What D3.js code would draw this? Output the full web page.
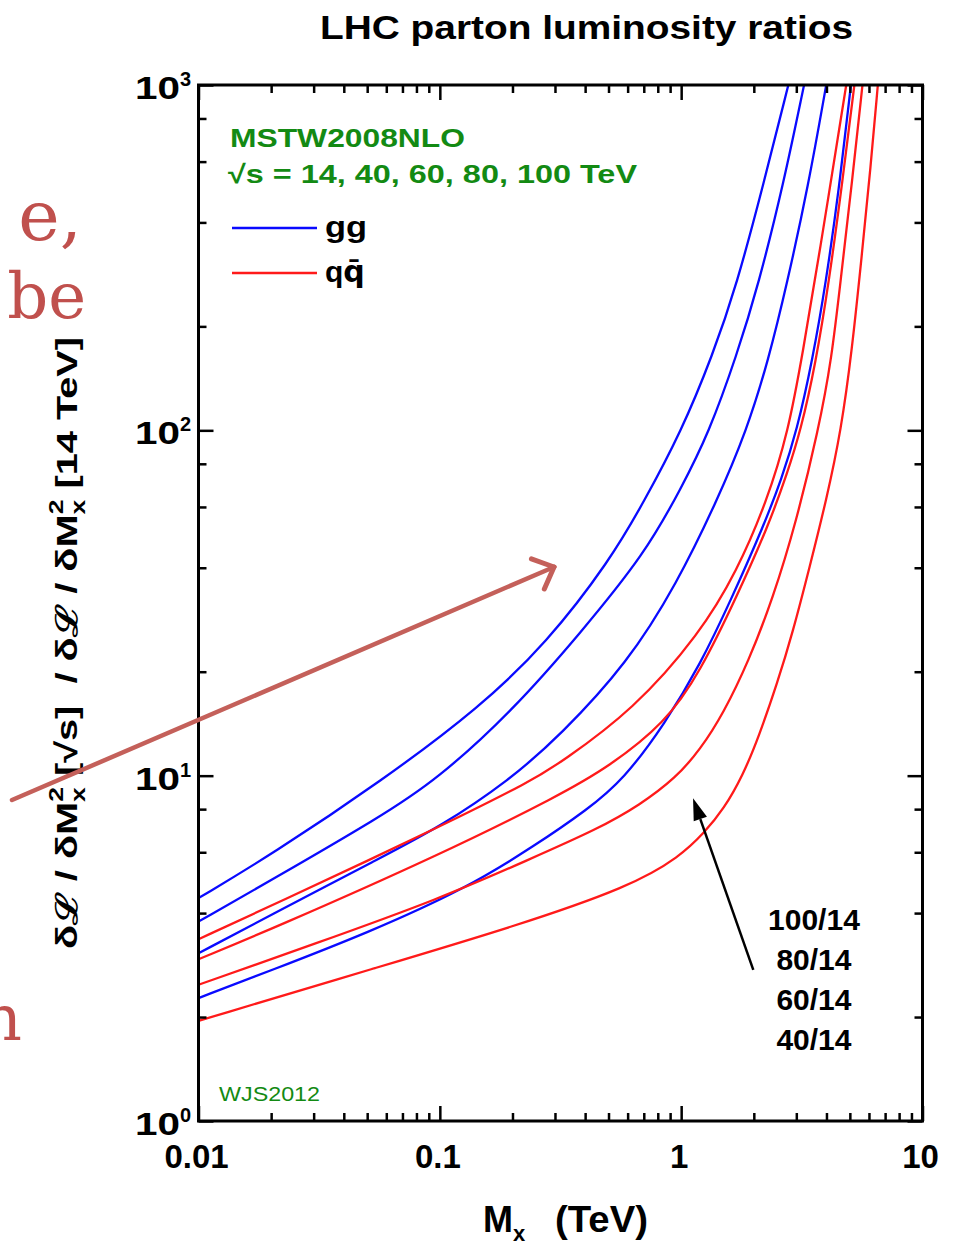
<!DOCTYPE html>
<html>
<head>
<meta charset="utf-8">
<script src="https://cdn.jsdelivr.net/npm/d3@7"></script>
<style>
  body { margin: 0; background: #fff; }
  svg { display: block; }
  text { font-family: "Liberation Sans", Arial, Helvetica, sans-serif; white-space: pre; }
</style>
</head>
<body>
<svg width="955" height="1248"></svg>
<script>
// axis ticks and labels
var massTicks = [0.01, 0.1, 1, 10];
var massLabels = ["0.01", "0.1", "1", "10"];
var ratioTicks = [1, 10, 100, 1000];
var energyRatios = ["100/14", "80/14", "60/14", "40/14"];

// [M_X (TeV), luminosity ratio]
var gg_100 = [[0.01, 4.42], [0.02, 5.9], [0.0582, 9.72], [0.1467, 15.8], [0.277, 24.2], [0.507, 42], [0.7, 62], [1.0, 99], [1.35, 165], [1.7, 264], [2.19, 514], [2.78, 1000]];
var gg_80 = [[0.01, 3.78], [0.02, 4.98], [0.0567, 7.6], [0.097, 9.72], [0.2016, 15.5], [0.381, 25.8], [0.709, 44], [1.0, 68], [1.3, 98], [1.7, 165], [2.09, 264], [2.65, 514], [3.23, 1000]];
var gg_60 = [[0.01, 3.06], [0.02, 3.95], [0.0567, 5.78], [0.1, 7.1], [0.195, 9.72], [0.316, 13.1], [0.6, 21.2], [0.96, 36], [1.4, 62], [1.87, 100], [2.3, 160], [2.74, 264], [3.37, 514], [3.99, 1000]];
var gg_40 = [[0.01, 2.27], [0.02, 2.73], [0.05, 3.5], [0.129, 4.72], [0.25, 6.3], [0.407, 7.96], [0.576, 9.72], [0.86, 14.2], [1.2, 21], [1.6, 32], [2.2, 53], [2.6, 72], [3.02, 100], [3.5, 160], [3.98, 268], [4.5, 494], [5.05, 1000]];
var qq_100 = [[0.01, 3.36], [0.02, 4.2], [0.094, 6.96], [0.244, 9.72], [0.316, 10.9], [0.634, 15.5], [1.197, 25.8], [1.7, 39], [2.26, 62], [2.78, 99], [3.2, 170], [3.7, 310], [4.83, 1000]];
var qq_80 = [[0.01, 2.94], [0.02, 3.59], [0.1, 5.9], [0.316, 8.8], [0.5, 10.6], [0.86, 14.2], [1.2, 20], [1.7, 33], [2.3, 53], [2.75, 75], [3.13, 100], [3.6, 155], [4.1, 270], [4.65, 520], [5.22, 1000]];
var qq_60 = [[0.01, 2.48], [0.03, 3.25], [0.1, 4.4], [0.237, 5.74], [0.45, 7.0], [0.6755, 8.23], [0.95, 9.85], [1.2, 11.9], [1.5, 15.2], [1.9, 21.4], [2.4, 32.6], [3.0, 54.4], [3.7, 100], [4.2, 160], [4.6, 280], [5.1, 520], [5.64, 1000]];
var qq_40 = [[0.01, 1.95], [0.0565, 2.8], [0.2016, 3.65], [0.614, 4.77], [0.99, 5.83], [1.25, 6.85], [1.5, 8.0], [1.8, 10.0], [2.1, 13.0], [2.5, 18.5], [2.9, 26], [3.4, 40], [4.0, 63], [4.6, 100], [5.1, 170], [5.6, 320], [6.1, 580], [6.53, 1000]];

var ggSeries = [gg_100, gg_80, gg_60, gg_40];
var qqSeries = [qq_100, qq_80, qq_60, qq_40];

var BLUE = "#0a0aff", RED = "#ff1a1a", GREEN = "#138a13", SLIDE = "#c4605a";
var LEFT = 198.5, RIGHT = 922.5, TOP = 85, BOTTOM = 1121;

var svg = d3.select("svg");
var x = d3.scaleLog().domain([0.01, 10]).range([LEFT, RIGHT]);
var y = d3.scaleLog().domain([1, 1000]).range([BOTTOM, TOP]);

function fitText (sel, target) {
  sel.attr("textLength", target).attr("lengthAdjust", "spacingAndGlyphs");
  return sel;
}

function drawCurves () {
  svg.append("clipPath").attr("id", "plotClip")
    .append("rect")
    .attr("x", LEFT).attr("y", TOP)
    .attr("width", RIGHT - LEFT).attr("height", BOTTOM - TOP);

  var line = d3.line()
    .x(function (d) { return x(d[0]); })
    .y(function (d) { return y(d[1]); })
    .curve(d3.curveBasis);

  var g = svg.append("g").attr("clip-path", "url(#plotClip)");
  g.selectAll(".gg").data(ggSeries).enter().append("path")
    .attr("d", line).attr("fill", "none")
    .attr("stroke", BLUE).attr("stroke-width", 2.3);
  g.selectAll(".qq").data(qqSeries).enter().append("path")
    .attr("d", line).attr("fill", "none")
    .attr("stroke", RED).attr("stroke-width", 2.3);
}

function drawAxes () {
  var minorX = x.ticks().filter(function (v) { return massTicks.indexOf(v) === -1; });
  var minorY = y.ticks().filter(function (v) {
    var m = Math.round(v / Math.pow(10, Math.floor(Math.log10(v) + 1e-9)));
    return m % 2 === 0;
  });

  // inward ticks on all four sides
  var axes = [
    [d3.axisBottom(x), "translate(0," + BOTTOM + ")", massTicks, minorX],
    [d3.axisTop(x), "translate(0," + TOP + ")", massTicks, minorX],
    [d3.axisLeft(y), "translate(" + LEFT + ",0)", ratioTicks, minorY],
    [d3.axisRight(y), "translate(" + RIGHT + ",0)", ratioTicks, minorY]
  ];
  axes.forEach(function (a) {
    [[a[2], -15], [a[3], -8]].forEach(function (t) {
      var g = svg.append("g").attr("transform", a[1])
        .call(a[0].tickValues(t[0]).tickSize(t[1]).tickFormat(""));
      g.select(".domain").remove();
      g.selectAll("line").attr("stroke", "#000").attr("stroke-width", 2.5);
    });
  });

  svg.append("rect")
    .attr("x", LEFT).attr("y", TOP)
    .attr("width", RIGHT - LEFT).attr("height", BOTTOM - TOP)
    .attr("fill", "none").attr("stroke", "#000").attr("stroke-width", 3);

  svg.selectAll(".xlab").data(massTicks).enter().append("text")
    .text(function (d, i) { return massLabels[i]; })
    .attr("x", function (d) { return x(d) - 2; })
    .attr("y", 1168)
    .attr("text-anchor", "middle")
    .style("font-size", "33px").style("font-weight", "bold");

  // 10^n labels: base stretched like the reference, exponent raised
  svg.selectAll(".ybase").data(ratioTicks).enter().append("text")
    .text("10")
    .attr("x", 180)
    .attr("y", function (d) { return y(d) + 14; })
    .attr("text-anchor", "end")
    .attr("textLength", 45).attr("lengthAdjust", "spacingAndGlyphs")
    .style("font-size", "31px").style("font-weight", "bold");
  svg.selectAll(".yexp").data(ratioTicks).enter().append("text")
    .text(function (d) { return Math.round(Math.log10(d)); })
    .attr("x", 180)
    .attr("y", function (d) { return y(d) + 1; })
    .style("font-size", "20px").style("font-weight", "bold");
}

function drawText () {
  fitText(svg.append("text")
    .text("LHC parton luminosity ratios")
    .attr("x", 320).attr("y", 39)
    .style("font-size", "34px").style("font-weight", "bold"), 533);

  // x axis title
  var xt = svg.append("text").attr("x", 483).attr("y", 1232)
    .style("font-size", "36px").style("font-weight", "bold");
  xt.append("tspan").text("M");
  xt.append("tspan").text("x").attr("dy", 9).style("font-size", "22px");
  fitText(xt.append("tspan").text("(TeV)").attr("x", 555).attr("dy", -9), 93);

  // y axis title, rotated, stretched to the reference length
  var yt = svg.append("text").attr("text-anchor", "middle")
    .style("font-size", "30px").style("font-weight", "bold");
  var parts = [["δℒ / δM", 0, 0, 30], ["x", 0, 8, 20], ["2", -11, -22, 20],
    [" [√s]  / δℒ / δM", 0, 14, 30], ["x", 0, 8, 20], ["2", -11, -22, 20], [" [14 TeV]", 0, 14, 30]];
  parts.forEach(function (p) {
    yt.append("tspan").text(p[0]).attr("dx", p[1]).attr("dy", p[2]).style("font-size", p[3] + "px");
  });
  var w = yt.node().getBBox().width;
  yt.attr("transform", "translate(77,643) rotate(-90) scale(" + (613 / w) + ",1)");

  // legend
  fitText(svg.append("text").text("MSTW2008NLO")
    .attr("x", 230).attr("y", 147).attr("fill", GREEN)
    .style("font-size", "26px").style("font-weight", "bold"), 235);
  fitText(svg.append("text").text("√s = 14, 40, 60, 80, 100 TeV")
    .attr("x", 228).attr("y", 183).attr("fill", GREEN)
    .style("font-size", "26px").style("font-weight", "bold"), 409);

  svg.append("line").attr("x1", 232).attr("x2", 317).attr("y1", 228).attr("y2", 228)
    .attr("stroke", BLUE).attr("stroke-width", 2.5);
  svg.append("line").attr("x1", 232).attr("x2", 317).attr("y1", 273).attr("y2", 273)
    .attr("stroke", RED).attr("stroke-width", 2.5);
  fitText(svg.append("text").text("gg")
    .attr("x", 325).attr("y", 237)
    .style("font-size", "29px").style("font-weight", "bold"), 42);
  var qq = svg.append("text").attr("x", 325).attr("y", 282)
    .style("font-size", "30px").style("font-weight", "bold");
  qq.append("tspan").text("q");
  qq.append("tspan").text("q̄").style("font-family", "DejaVu Sans");

  fitText(svg.append("text").text("WJS2012")
    .attr("x", 219).attr("y", 1101).attr("fill", GREEN)
    .style("font-size", "21px"), 101);

  // energy ratio labels and arrow
  svg.selectAll(".elab").data(energyRatios).enter().append("text")
    .text(function (d) { return d; })
    .attr("x", x(3.55))
    .attr("y", function (d, i) { return 930 + i * 40; })
    .attr("text-anchor", "middle")
    .style("font-size", "30px").style("font-weight", "bold");

  drawArrow([x(1.99), y(2.74)], [x(1.12), y(8.6)]);
}

function drawArrow (from, to) {
  var ang = Math.atan2(to[1] - from[1], to[0] - from[0]);
  var len = 22, half = 7;
  var bx = to[0] - len * Math.cos(ang), by = to[1] - len * Math.sin(ang);
  svg.append("line")
    .attr("x1", from[0]).attr("y1", from[1]).attr("x2", bx).attr("y2", by)
    .attr("stroke", "#000").attr("stroke-width", 2.5);
  svg.append("polygon")
    .attr("points", [to, [bx + half * Math.sin(ang), by - half * Math.cos(ang)],
      [bx - half * Math.sin(ang), by + half * Math.cos(ang)]].map(function (p) { return p.join(","); }).join(" "))
    .attr("fill", "#000");
}

// pieces of the slide the chart was pasted on
function drawSlideOverlay () {
  [["e,", 82, 240, 70], ["be", 86, 318, 64], ["n", 22, 1040, 64]].forEach(function (t) {
    svg.append("text").text(t[0])
      .attr("x", t[1]).attr("y", t[2]).attr("text-anchor", "end")
      .attr("fill", "#c0504d")
      .style("font-family", "DejaVu Serif").style("font-size", t[3] + "px");
  });

  var from = [12, 800], to = [554, 567];
  var ang = Math.atan2(to[1] - from[1], to[0] - from[0]);
  svg.append("line")
    .attr("x1", from[0]).attr("y1", from[1]).attr("x2", to[0]).attr("y2", to[1])
    .attr("stroke", SLIDE).attr("stroke-width", 4.5).attr("stroke-linecap", "round");
  [-0.75, 0.75].forEach(function (da) {
    svg.append("line")
      .attr("x1", to[0]).attr("y1", to[1])
      .attr("x2", to[0] - 24 * Math.cos(ang + da)).attr("y2", to[1] - 24 * Math.sin(ang + da))
      .attr("stroke", SLIDE).attr("stroke-width", 5).attr("stroke-linecap", "round");
  });
}

drawCurves();
drawAxes();
drawText();
drawSlideOverlay();
</script>
</body>
</html>
